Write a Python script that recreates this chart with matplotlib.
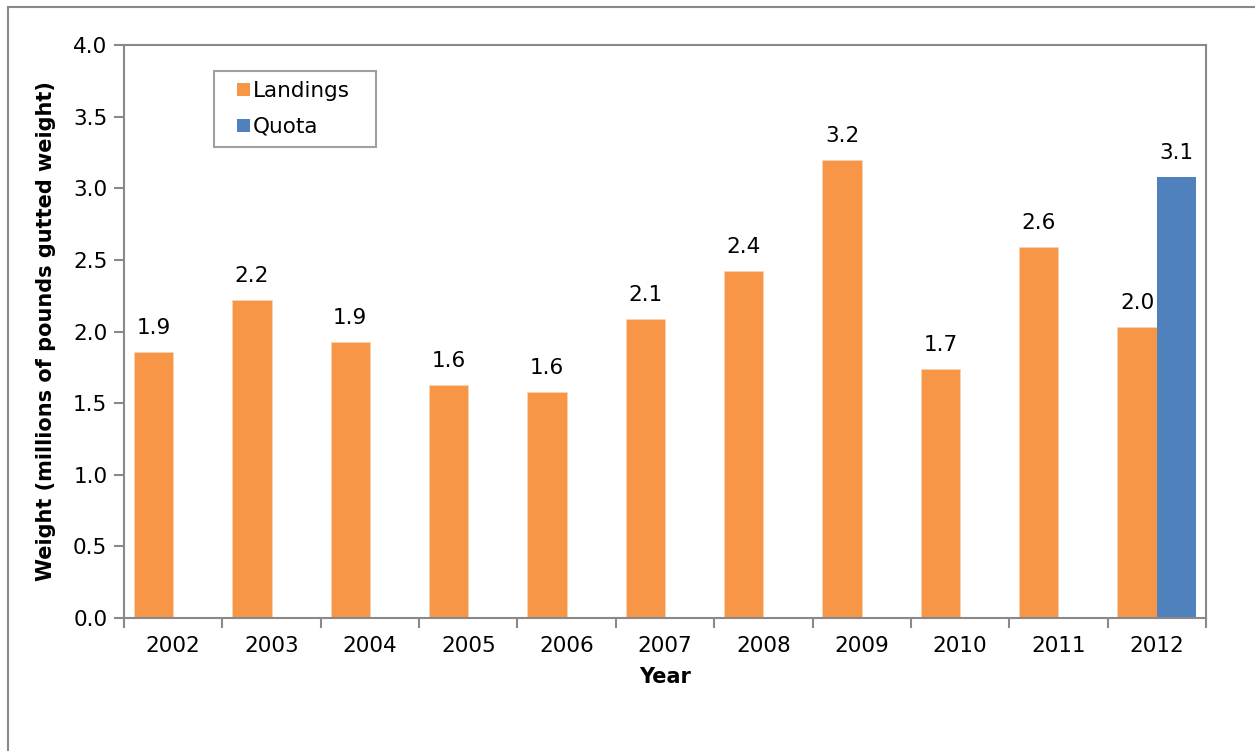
import numpy as np
import matplotlib.pyplot as plt
from matplotlib.patches import Rectangle
from matplotlib.legend_handler import HandlerPatch
from matplotlib.container import BarContainer

years = ['2002', '2003', '2004', '2005', '2006', '2007', '2008', '2009', '2010', '2011', '2012']
landings = [1.86, 2.22, 1.93, 1.63, 1.58, 2.09, 2.42, 3.20, 1.74, 2.59, 2.03]
quota = [np.nan] * 10 + [3.08]

orange = '#F79646'
blue = '#4F81BD'
grey = '#898989'
fs = 15.5


def square_patch(legend, orig_handle, xdescent, ydescent, width, height, fontsize):
    # small square sitting at the right end of the handle slot
    return Rectangle((width - height - xdescent, -ydescent), height, height)


def from_first_bar(legend_handle, orig_handle):
    legend_handle.update_from(orig_handle.patches[0])
    legend_handle.set_edgecolor('none')


fig = plt.figure(figsize=(12.55, 7.51), dpi=100)
ax = fig.add_axes([124 / 1255, 1 - 618 / 751, (1206 - 124) / 1255, (618 - 45) / 751])

# outer frame of the chart area
fig.patches.append(Rectangle((8 / 1255, -0.1), 1.2, 1 - 7 / 751 + 0.1, transform=fig.transFigure,
                             fill=False, edgecolor=grey, linewidth=1.5))

x = np.arange(len(years))
w = 0.4
ax.bar(x - w / 2, landings, w, color=orange, label='Landings', edgecolor='#FBD5B5', linewidth=0.5)
ax.bar(x + w / 2, quota, w, color=blue, label='Quota')

for xi, v in zip(x - w / 2, landings):
    ax.annotate(f'{v:.1f}', (xi, v), xytext=(0, 10), textcoords='offset points',
                ha='center', va='bottom', fontsize=fs)
for xi, v in zip(x + w / 2, quota):
    if not np.isnan(v):
        ax.annotate(f'{v:.1f}', (xi, v), xytext=(0, 10), textcoords='offset points',
                    ha='center', va='bottom', fontsize=fs)

ax.set_xlim(-0.5, len(years) - 0.5)
ax.set_ylim(0, 4.0)
ax.set_yticks(np.arange(0, 4.01, 0.5))
ax.set_yticklabels([f'{t:.1f}' for t in np.arange(0, 4.01, 0.5)])
ax.set_xticks(x)
ax.set_xticklabels(years)
ax.set_xticks(np.arange(-0.5, len(years), 1), minor=True)
ax.tick_params(axis='x', which='major', length=0, pad=13, labelsize=fs)
ax.tick_params(axis='x', which='minor', length=7, width=1.5, color=grey, direction='out')
ax.tick_params(axis='y', length=7, width=1.5, color=grey, direction='out', labelsize=fs, pad=5)

for s in ax.spines.values():
    s.set_color(grey)
    s.set_linewidth(1.5)

ax.set_xlabel('Year', fontsize=15, fontweight='bold', labelpad=8)
ax.set_ylabel('Weight (millions of pounds gutted weight)', fontsize=15, fontweight='bold', labelpad=12)

ax_w, ax_h = 1206 - 124, 618 - 45
leg = ax.legend(loc='upper left',
                bbox_to_anchor=((214 - 124) / ax_w, 1 - (148 - 45) / ax_h, 162 / ax_w, 77 / ax_h),
                mode='expand', fontsize=fs, frameon=True, fancybox=False, edgecolor=grey,
                handlelength=1.2, handleheight=0.55, handletextpad=0.15, borderpad=0.45,
                labelspacing=0.75, borderaxespad=0,
                handler_map={BarContainer: HandlerPatch(patch_func=square_patch,
                                                        update_func=from_first_bar)})
leg.get_frame().set_linewidth(1.5)

fig.savefig('out.png', dpi=100)
